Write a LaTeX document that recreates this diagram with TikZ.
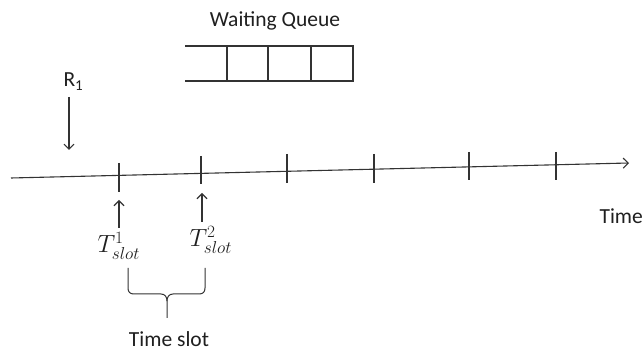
\documentclass[tikz,border=0pt]{standalone}
\usepackage{fontspec}
\setmainfont{Carlito}
\DeclareMathSizes{25}{25}{18}{14}
\usetikzlibrary{arrows.meta}
\begin{document}
\begin{tikzpicture}[x=1pt,y=-1pt, line width=1.1pt,
  ln/.style={draw=black!80, line width=1.1pt},
  lbl/.style={font=\fontsize{21.5}{24}\selectfont, inner sep=0pt, text=black!88},
  mathlbl/.style={font=\fontsize{25}{30}\selectfont, inner sep=0pt, text=black!88},
  arr/.style={ln, -{Straight Barb[length=5pt,width=10pt]}}]
\useasboundingbox (0,0) rectangle (643,352);
% timeline
\coordinate (tl0) at (11,178);
\coordinate (tl1) at (629,163);
\draw[arr] (tl0) -- (tl1);
% ticks
\foreach \i/\x/\a/\b in {1/119/163/192, 2/201/156/184, 3/287/154/183, 4/374/154/183, 5/469/152/180, 6/556/152/180} {
  \coordinate (t\i a) at (\x,\a);
  \coordinate (t\i b) at (\x,\b);
  \draw[ln] (t\i a) -- (t\i b);
}
% waiting queue
\node[lbl, anchor=base] (wq) at (275,27) {Waiting Queue};
\draw[ln] (185,46) -- (353,46) -- (353,81) -- (185,81);
\foreach \x in {227,268,311} \draw[ln] (\x,46) -- (\x,81);
% R1
\node[lbl, anchor=base west] (r1) at (63,87) {R\textsubscript{1}};
\coordinate (r1a) at (69,97);
\coordinate (r1b) at (69,150);
\draw[arr] (r1a) -- (r1b);
% Time
\node[lbl, anchor=base west] (time) at (599,224) {Time};
% T slot labels
\node[mathlbl, anchor=base west] (ts1) at (97,253) {$T^{1}_{slot}$};
\node[mathlbl, anchor=base west] (ts2) at (189,247) {$T^{2}_{slot}$};
\coordinate (u1a) at (119,228);
\coordinate (u1b) at (119,200);
\coordinate (u2a) at (202,222);
\coordinate (u2b) at (202,193);
\draw[arr] (u1a) -- (u1b);
\draw[arr] (u2a) -- (u2b);
% brace
\draw[ln, line width=1pt] (128,268) -- (128,288) .. controls (128,292) and (130,294) .. (134,294) -- (161,294)
  .. controls (165,294) and (167,297) .. (167,301) -- (167,318);
\draw[ln, line width=1pt] (205,268) -- (205,288) .. controls (205,292) and (203,294) .. (199,294) -- (173,294)
  .. controls (169,294) and (167,297) .. (167,301);
% time slot label
\node[lbl, anchor=base] (tsl) at (169,347) {Time slot};
\end{tikzpicture}
\end{document}
